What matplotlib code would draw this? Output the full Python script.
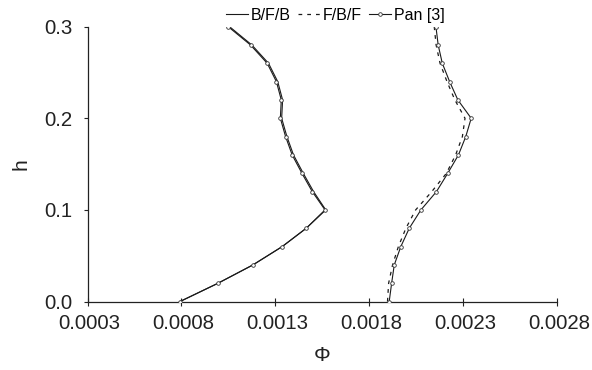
import numpy as np
import matplotlib
matplotlib.use('Agg')
import matplotlib.pyplot as plt
import matplotlib.transforms as mtransforms

plt.rcParams['font.family'] = ['Liberation Sans', 'DejaVu Sans']

# heights (same grid for every series)
h = [0.00, 0.02, 0.04, 0.06, 0.08, 0.10, 0.12, 0.14, 0.16,
     0.18, 0.20, 0.22, 0.24, 0.26, 0.28, 0.30]

# left group: B/F/B and Pan [3]
bfb_left = [0.000792, 0.000995, 0.001181, 0.001337, 0.001465, 0.001569,
            0.001504, 0.001449, 0.001397, 0.001362, 0.001334, 0.001339,
            0.001313, 0.001264, 0.001175, 0.001056]
pan_left = [0.000792, 0.000995, 0.001181, 0.001337, 0.001465, 0.001565,
            0.001497, 0.001442, 0.001390, 0.001355, 0.001327, 0.001332,
            0.001306, 0.001257, 0.001168, 0.001049]

# right group: F/B/F and Pan [3]
fbf_right = [0.001898, 0.001904, 0.001925, 0.001956, 0.001996, 0.002048,
             0.002134, 0.002212, 0.002261, 0.002297, 0.002311, 0.002257,
             0.002215, 0.002178, 0.002157, 0.002147]
pan_right = [0.001907, 0.001920, 0.001934, 0.001969, 0.002014, 0.002076,
             0.002159, 0.002219, 0.002276, 0.002315, 0.002344, 0.002273,
             0.002229, 0.002190, 0.002168, 0.002156]

xticks = [0.0003, 0.0008, 0.0013, 0.0018, 0.0023, 0.0028]
yticks = [0.0, 0.1, 0.2, 0.3]

fig = plt.figure(figsize=(5.92, 3.70), dpi=100)
ax = fig.add_axes([0.148, 0.185, 0.7925, 0.743])

lc = '#1a1a1a'
l1, = ax.plot(bfb_left, h, color=lc, lw=0.8, label='B/F/B')
l2, = ax.plot(fbf_right, h, color=lc, lw=0.9, linestyle=(0, (3, 4)), label='F/B/F')
mk = dict(color=lc, lw=0.8, marker='o', markersize=2.6, markerfacecolor='white',
          markeredgewidth=0.6, markeredgecolor='#333333')
l3, = ax.plot(pan_left, h, label='Pan [3]', **mk)
ax.plot(pan_right, h, **mk)

ax.set_xlim(xticks[0], xticks[-1])
ax.set_ylim(yticks[0], yticks[-1])
ax.set_xticks(xticks)
ax.set_xticklabels(['%.4f' % v for v in xticks])
ax.set_yticks(yticks)
ax.set_yticklabels(['%.1f' % v for v in yticks])

for s in ['top', 'right']:
    ax.spines[s].set_visible(False)
for s in ['left', 'bottom']:
    ax.spines[s].set_linewidth(0.9)
    ax.spines[s].set_color('#222222')
    ax.spines[s].set_zorder(1)

ax.tick_params(axis='both', width=0.8, labelsize=14.7, colors='#222222')
ax.tick_params(axis='y', direction='out', length=3, pad=8)
ax.tick_params(axis='x', direction='inout', length=6, pad=6)

# x labels sit a little right of their ticks
shift = mtransforms.ScaledTranslation(2 / 100, 0, fig.dpi_scale_trans)
for lab in ax.get_xticklabels():
    lab.set_transform(lab.get_transform() + shift)

ax.set_xlabel('Φ', fontsize=15, labelpad=9, color='#222222')
ax.set_ylabel('h', fontsize=15, labelpad=10, color='#222222')

fig.legend(handles=[l1, l2, l3], loc='center', bbox_to_anchor=(0.566, 0.958),
           ncol=3, frameon=False, fontsize=11.5, handlelength=1.4,
           handletextpad=0.15, columnspacing=0.45, borderpad=0)

fig.savefig('out.png', dpi=100)
